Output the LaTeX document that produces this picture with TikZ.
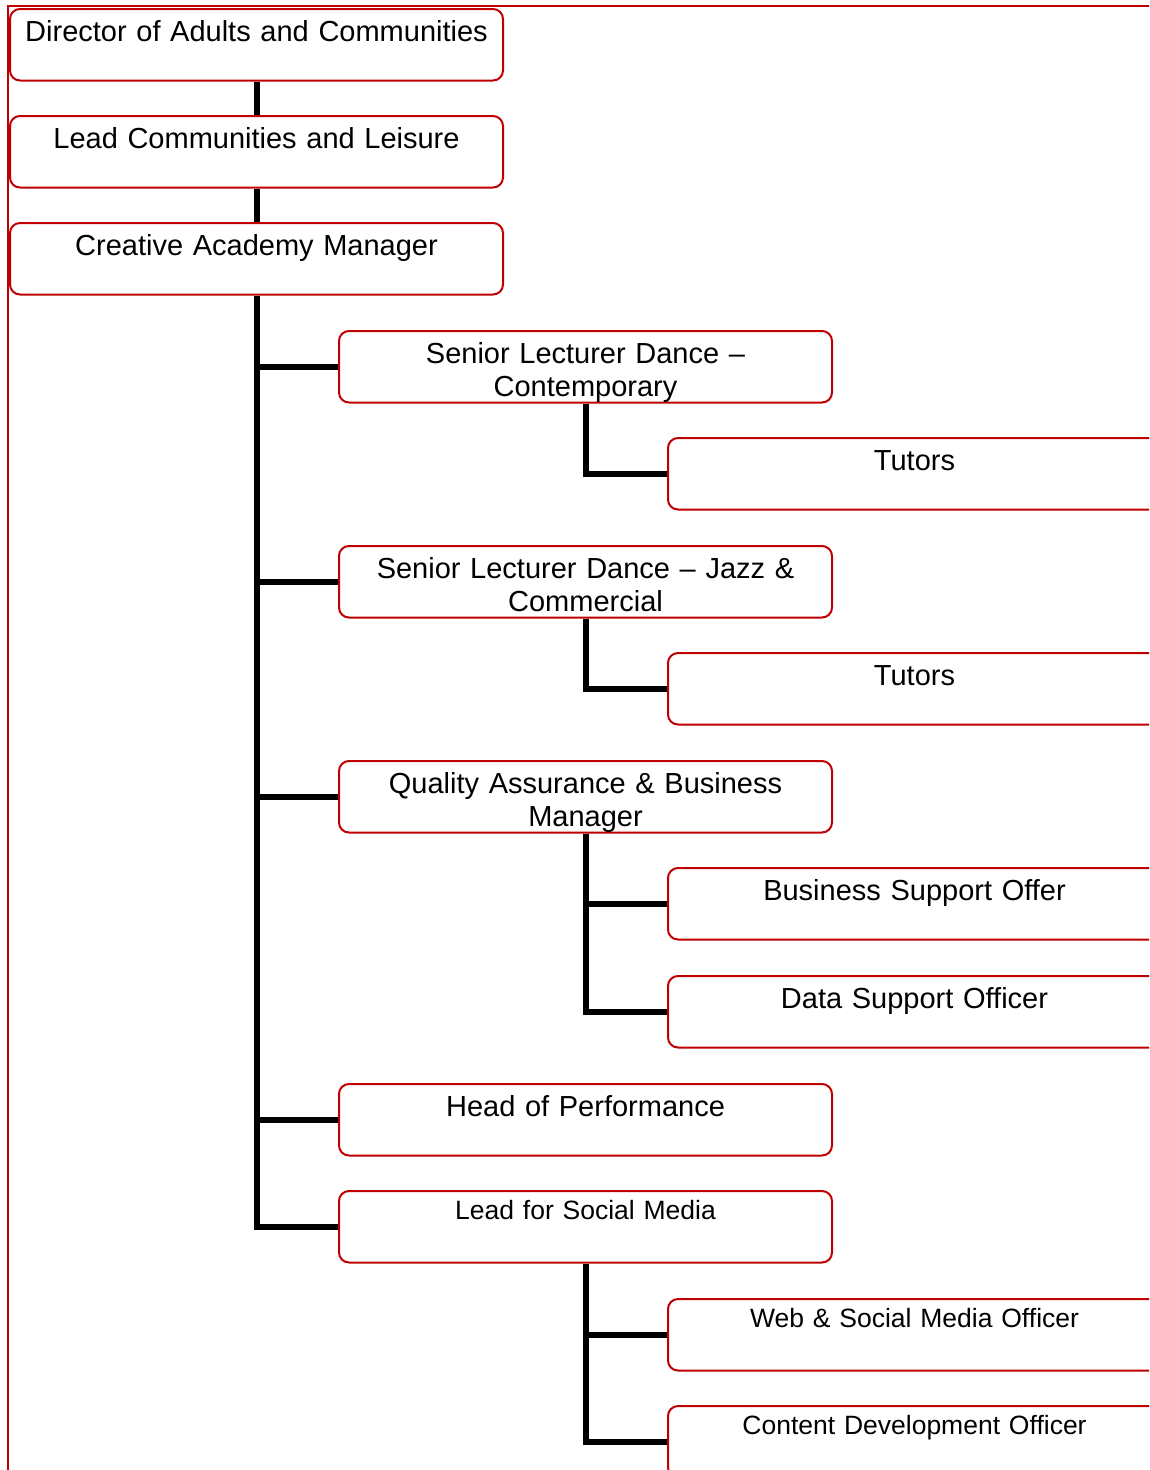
\documentclass[tikz,border=0pt]{standalone}
\usepackage{fontspec}
\setmainfont{Liberation Sans}
\definecolor{boxred}{RGB}{192,0,0}

\tikzset{
  post/.style={draw=boxred, line width=2pt, fill=white, rounded corners=10pt,
    anchor=north west, minimum width=493pt, minimum height=71.5pt,
    text width=493pt, inner sep=0pt, align=center,
    font=\fontsize{29}{33}\selectfont, text height=32pt, text depth=39.5pt},
  smallpost/.style={post, font=\fontsize{26.5}{30}\selectfont,
    text height=28.5pt, text depth=43pt},
  link/.style={line width=6pt}
}

\begin{document}
\begin{tikzpicture}[x=1pt,y=-1pt]
  \clip (0,0) rectangle (1149,1470);

  % Page frame
  \draw[boxred, line width=2pt] (8,1470) -- (8,6) -- (1149,6);

  % Top of the chart
  \node[post] (dir) at (9,8) {Director of Adults and Communities};
  \node[post] (lcl) at (9,115) {Lead Communities and Leisure};
  \node[post] (cam) at (9,222) {Creative Academy Manager};

  % Second level
  \node[post] (sldc) at (338,330) {Senior Lecturer Dance --\\Contemporary};
  \node[post] (sldj) at (338,545) {Senior Lecturer Dance -- Jazz \&\\Commercial};
  \node[post] (qabm) at (338,760) {Quality Assurance \& Business\\Manager};
  \node[post] (hop) at (338,1083) {Head of Performance};
  \node[smallpost] (lsm) at (338,1190) {Lead for Social Media};

  % Third level
  \node[post] (tut1) at (667,437) {Tutors};
  \node[post] (tut2) at (667,652) {Tutors};
  \node[post] (bso) at (667,867) {Business Support Offer};
  \node[post] (dso) at (667,975) {Data Support Officer};
  \node[smallpost] (wsmo) at (667,1298) {Web \& Social Media Officer};
  \node[smallpost] (cdo) at (667,1405) {Content Development Officer};

  % Main line
  \draw[link] (dir.south) -- (lcl.north);
  \draw[link] (lcl.south) -- (cam.north);
  \draw[link] (cam.south) |- (lsm.west);
  \foreach \n in {sldc,sldj,qabm,hop}
    \draw[link] (cam.south |- \n.west) -- (\n.west);

  % Branches
  \draw[link] (sldc.south) |- (tut1.west);
  \draw[link] (sldj.south) |- (tut2.west);
  \draw[link] (qabm.south) |- (dso.west);
  \draw[link] (qabm.south |- bso.west) -- (bso.west);
  \draw[link] (lsm.south) |- (cdo.west);
  \draw[link] (lsm.south |- wsmo.west) -- (wsmo.west);
\end{tikzpicture}
\end{document}
